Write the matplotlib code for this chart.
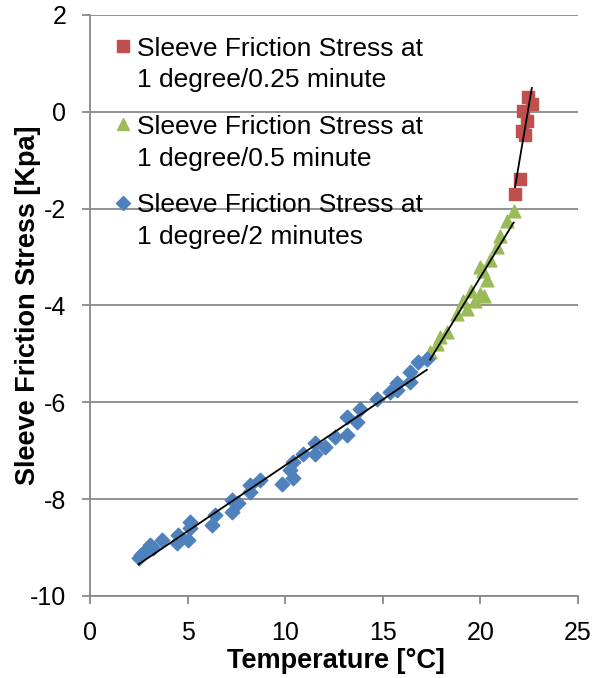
import numpy as np
import matplotlib.pyplot as plt
import matplotlib as mpl
from matplotlib.lines import Line2D
from matplotlib.legend_handler import HandlerLine2D

mpl.rcParams.update({
    "font.family": ["Liberation Sans", "DejaVu Sans"],
    "font.size": 18,
    "axes.unicode_minus": False,
})

# Sleeve friction stress vs temperature, three heating rates
blue_x = [2.48, 2.6, 2.73, 3.07, 3.2, 3.67, 4.44, 4.52, 5.04, 5.12, 5.12,
          6.23, 6.4, 7.26, 7.26, 7.6, 8.2, 8.2, 8.71, 9.82, 10.25, 10.42,
          10.42, 10.93, 11.53, 11.53, 12.04, 12.55, 13.15, 13.15, 13.66,
          13.83, 14.69, 15.37, 15.71, 15.71, 16.39, 16.39, 16.82, 17.25]
blue_y = [-9.22, -9.15, -9.12, -8.95, -9.0, -8.85, -8.91, -8.74, -8.85,
          -8.47, -8.6, -8.54, -8.33, -8.26, -8.02, -8.09, -7.85, -7.71,
          -7.61, -7.68, -7.40, -7.57, -7.23, -7.06, -6.85, -7.06, -6.92,
          -6.71, -6.68, -6.30, -6.41, -6.13, -5.93, -5.79, -5.61, -5.74,
          -5.37, -5.58, -5.17, -5.10]

green_x = [17.42, 17.76, 17.93, 18.27, 18.79, 19.13, 19.3, 19.5, 19.7,
           19.98, 20.2, 19.98, 20.15, 20.32, 20.49, 20.83, 21.0, 21.35, 21.7]
green_y = [-4.96, -4.79, -4.65, -4.55, -4.17, -3.90, -4.07, -3.70, -3.90,
           -3.76, -3.80, -3.20, -3.28, -3.48, -3.07, -2.80, -2.56, -2.25, -2.04]

red_x = [21.77, 22.03, 22.11, 22.28, 22.2, 22.37, 22.45, 22.63]
red_y = [-1.70, -1.39, -0.39, -0.49, 0.02, -0.20, 0.30, 0.16]

labels = ["Sleeve Friction Stress at\n1 degree/0.25 minute",
          "Sleeve Friction Stress at\n1 degree/0.5 minute",
          "Sleeve Friction Stress at\n1 degree/2 minutes"]

RED, GREEN, BLUE = "#C0504D", "#9BBB59", "#4F81BD"
GRID = "#898989"


class FirstLineHandler(HandlerLine2D):
    """Put the legend marker level with the first line of a two-line label."""
    def create_artists(self, legend, orig_handle, xdescent, ydescent,
                       width, height, fontsize, trans):
        arts = super().create_artists(legend, orig_handle, xdescent, ydescent,
                                      width, height, fontsize, trans)
        for a in arts:
            a.set_ydata(np.asarray(a.get_ydata()) + 0.7 * fontsize)
        return arts


fig = plt.figure(figsize=(6.13, 6.78), dpi=100)
ax = fig.add_axes([0.147, 0.121, 0.796, 0.857])

ax.scatter(red_x, red_y, marker="s", s=80, color=RED, zorder=3)
ax.scatter(green_x, green_y, marker="^", s=85, color=GREEN, zorder=3)
ax.scatter(blue_x, blue_y, marker="D", s=55, color=BLUE, zorder=3)

# linear trendlines over each series' range
for xs, ys in ((blue_x, blue_y), (green_x, green_y), (red_x, red_y)):
    xs = np.asarray(xs)
    k, b = np.polyfit(xs, ys, 1)
    xr = np.array([xs.min(), xs.max()])
    ax.plot(xr, k * xr + b, color="black", linewidth=1.3, zorder=4)

ax.set_xlim(0, 25)
ax.set_ylim(-10, 2)
ax.set_xticks(range(0, 26, 5))
ax.set_yticks(range(-10, 3, 2))
ax.yaxis.grid(True, color=GRID, linewidth=1.3)
ax.set_axisbelow(True)
for s in ("top", "right"):
    ax.spines[s].set_visible(False)
for s in ("left", "bottom"):
    ax.spines[s].set_color(GRID)
    ax.spines[s].set_linewidth(1.3)
ax.tick_params(direction="out", length=6, width=1.3, color=GRID, labelsize=18)
ax.tick_params(axis="x", pad=12)
ax.tick_params(axis="y", pad=11)

ax.set_xlabel("Temperature [°C]", fontsize=19.5, fontweight="bold")
ax.set_ylabel("Sleeve Friction Stress [Kpa]", fontsize=19.5, fontweight="bold")
ax.xaxis.set_label_coords(0.504, -0.089)
ax.yaxis.set_label_coords(-0.1, 0.5)

handles = [Line2D([], [], linestyle="none", marker="s", markersize=9, color=RED),
           Line2D([], [], linestyle="none", marker="^", markersize=9, color=GREEN),
           Line2D([], [], linestyle="none", marker="D", markersize=7, color=BLUE)]
leg = ax.legend(handles, labels, loc="upper left", bbox_to_anchor=(0.01, 0.994),
                frameon=False, fontsize=19, handletextpad=0.2, handlelength=0.7,
                labelspacing=0.85, borderpad=0.2,
                handler_map={Line2D: FirstLineHandler()})
for t in leg.get_texts():
    t.set_linespacing(1.4)

fig.savefig("out.png", dpi=100)
